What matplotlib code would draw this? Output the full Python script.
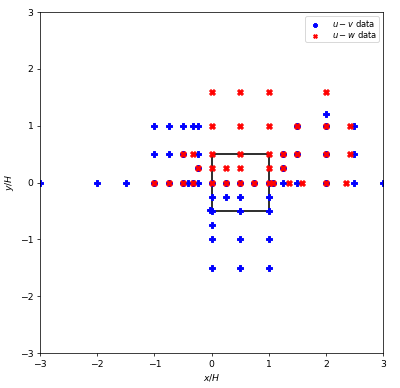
import numpy as np
import matplotlib
matplotlib.use("Agg")
import matplotlib.pyplot as plt
from matplotlib.patches import Rectangle

# u-v measurement locations (x/H, y/H)
uv_x = [-3, -2, -1.5, -1, -0.75, -0.5, -0.41, -0.32, -0.23, 0, 0.25, 0.5, 0.75, 1, 1.08, 1.25, 1.5, 2, 2.5, 3,
        -1, -0.75, -0.5, -0.32, -0.23, 1.5, 2, 2.5,
        -1, -0.75, -0.5, -0.23, 1.25, 1.5, 2, 2.5,
        -0.23, 1.25,
        2,
        0, 0.25, 0.5, 1,
        0, -0.02, 0.5, 1,
        0,
        0, 0.5, 1,
        0, 0.5, 1]
uv_y = [0, 0, 0, 0, 0, 0, 0, 0, 0, 0, 0, 0, 0, 0, 0, 0, 0, 0, 0, 0,
        1, 1, 1, 1, 1, 1, 1, 1,
        0.5, 0.5, 0.5, 0.5, 0.5, 0.5, 0.5, 0.5,
        0.25, 0.25,
        1.2,
        -0.25, -0.25, -0.25, -0.25,
        -0.5, -0.48, -0.5, -0.5,
        -0.75,
        -1, -1, -1,
        -1.5, -1.5, -1.5]

# u-w measurement locations (x/H, y/H)
uw_x = [0, 0.5, 1, 2,
        0, 0.5, 1, 1.5, 2, 2.42,
        -0.5, -0.32, 0, 0.5, 1, 1.25, 1.5, 2, 2.42,
        -0.23, 0, 0.25, 0.5, 1, 1.25,
        -1, -0.75, -0.5, -0.32, 0, 0.25, 0.5, 0.75, 1, 1.08, 1.35, 1.59, 2, 2.35]
uw_y = [1.6, 1.6, 1.6, 1.6,
        1, 1, 1, 1, 1, 1,
        0.5, 0.5, 0.5, 0.5, 0.5, 0.5, 0.5, 0.5, 0.5,
        0.25, 0.25, 0.25, 0.25, 0.25, 0.25,
        0, 0, 0, 0, 0, 0, 0, 0, 0, 0, 0, 0, 0, 0]

# drawn at a larger size and a lower dpi, like the original
fig = plt.figure(figsize=(6, 5.82), dpi=400 / 6)
ax = fig.add_axes([0.1, 0.09, 0.8575, 0.879])

# building footprint
ax.add_patch(Rectangle((0, -0.5), 1, 1, fill=False, edgecolor='#222222', linewidth=2, zorder=1))

ax.scatter(uv_x, uv_y, marker='P', color='blue', s=40, label='$u-v$ data', zorder=2)
ax.scatter(uw_x, uw_y, marker='X', color='red', s=40, label='$u-w$ data', zorder=3)

ax.set_xlim(-3, 3)
ax.set_ylim(-3, 3)
ax.set_xticks(np.arange(-3, 4, 1))
ax.set_yticks(np.arange(-3, 4, 1))
ax.set_xlabel('$x/H$')
ax.set_ylabel('$y/H$')
ax.legend(loc='upper right', fontsize=9, markerscale=0.65, borderpad=0.2, labelspacing=0.05,
          handletextpad=1.0, borderaxespad=0.5)

fig.savefig('out.png', dpi=400 / 6)
